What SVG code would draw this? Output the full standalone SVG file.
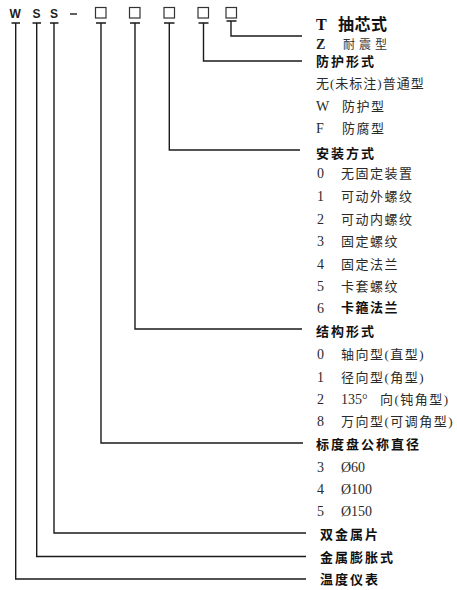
<svg xmlns="http://www.w3.org/2000/svg" width="457" height="590" viewBox="0 0 457 590">
<style>
.code{font-family:"Liberation Sans",Arial,sans-serif;font-weight:bold;font-size:12px;fill:#222}
.box{fill:none;stroke:#333;stroke-width:1.2}
.ln{fill:none;stroke:#1a1a1a;stroke-width:1.4}
.h{font-family:"Noto Sans CJK SC",sans-serif;font-weight:bold;font-size:13px;letter-spacing:2px;fill:#111}
.it{font-family:"Liberation Serif","Noto Sans CJK SC",serif;font-size:13px;letter-spacing:1.5px;fill:#2a2a2a}
.d{font-family:"Liberation Serif",serif;font-size:14px;fill:#2a2a2a}
</style>
<rect width="457" height="590" fill="#ffffff"/>
<g id="code">
<text class="code" x="9.5" y="18">W</text>
<text class="code" x="32.5" y="18">S</text>
<text class="code" x="50" y="18">S</text>
<line class="ln" x1="70" y1="14" x2="77" y2="14"/>
<rect class="box" x="95.5" y="7.5" width="10.5" height="10.5"/>
<rect class="box" x="129.5" y="7.5" width="10.5" height="10.5"/>
<rect class="box" x="164" y="7.5" width="10.5" height="10.5"/>
<rect class="box" x="198" y="7.5" width="10.5" height="10.5"/>
<rect class="box" x="226" y="7.5" width="10.5" height="10.5"/>
</g>
<g id="connectors">
<path class="ln" d="M11.5 23H20M15.7 23V579H306"/>
<path class="ln" d="M32.5 23H41M36.7 23V556.5H306"/>
<path class="ln" d="M50 23H58.5M54 23V533H306"/>
<path class="ln" d="M96 23H106M101 23V443H303"/>
<path class="ln" d="M130 23H140M135 23V329H302"/>
<path class="ln" d="M164 23H174.5M169.3 23V150H300"/>
<path class="ln" d="M198.5 23H208.5M203.5 23V61H302"/>
<path class="ln" d="M226.5 21H236.5M231 21V36H302"/>
</g>
<g id="core-type">
<text x="316" y="30" style="font-family:'Liberation Serif',serif;font-weight:bold;font-size:16px;fill:#111">T</text>
<text x="338" y="30" style="font-family:'Noto Sans CJK SC',sans-serif;font-weight:bold;font-size:16px;letter-spacing:0.5px;fill:#111">抽芯式</text>
<text x="316" y="49" style="font-family:'Liberation Serif',serif;font-weight:bold;font-size:14px;fill:#222">Z</text>
<text x="343" y="49" style="font-family:'Noto Sans CJK SC',sans-serif;font-size:12px;letter-spacing:4px;fill:#333">耐震型</text>
</g>
<g id="protection">
<text class="h" x="316" y="66">防护形式</text>
<text class="it" x="316" y="88" style="letter-spacing:1px">无(未标注)普通型</text>
<text class="d" x="316" y="111">W</text><text class="it" x="342" y="111">防护型</text>
<text class="d" x="316" y="133">F</text><text class="it" x="342" y="133">防腐型</text>
</g>
<g id="mounting">
<text class="h" x="316" y="158">安装方式</text>
<text class="d" x="317" y="178">0</text><text class="it" x="341" y="178">无固定装置</text>
<text class="d" x="317" y="201">1</text><text class="it" x="341" y="201">可动外螺纹</text>
<text class="d" x="317" y="224">2</text><text class="it" x="341" y="224">可动内螺纹</text>
<text class="d" x="317" y="246">3</text><text class="it" x="341" y="246">固定螺纹</text>
<text class="d" x="317" y="269">4</text><text class="it" x="341" y="269">固定法兰</text>
<text class="d" x="317" y="291">5</text><text class="it" x="341" y="291">卡套螺纹</text>
<text class="d" x="317" y="313">6</text><text class="it" x="341" y="312" style="font-weight:bold;fill:#111">卡箍法兰</text>
</g>
<g id="structure">
<text class="h" x="316" y="336">结构形式</text>
<text class="d" x="317" y="359">0</text><text class="it" x="341" y="359">轴向型(直型)</text>
<text class="d" x="317" y="382">1</text><text class="it" x="341" y="382">径向型(角型)</text>
<text class="d" x="317" y="404">2</text><text class="d" x="341" y="404">135°</text><text class="it" x="380" y="404">向(钝角型)</text>
<text class="d" x="317" y="426">8</text><text class="it" x="341" y="426">万向型(可调角型)</text>
</g>
<g id="dial">
<text class="h" x="316" y="449">标度盘公称直径</text>
<text class="d" x="317" y="472">3</text><text class="d" x="341" y="472">Ø60</text>
<text class="d" x="317" y="494">4</text><text class="d" x="341" y="494">Ø100</text>
<text class="d" x="317" y="516">5</text><text class="d" x="341" y="516">Ø150</text>
</g>
<g id="bimetal"><text class="h" x="320" y="539">双金属片</text></g>
<g id="expansion"><text class="h" x="320" y="562">金属膨胀式</text></g>
<g id="thermometer"><text class="h" x="320" y="584">温度仪表</text></g>
</svg>
